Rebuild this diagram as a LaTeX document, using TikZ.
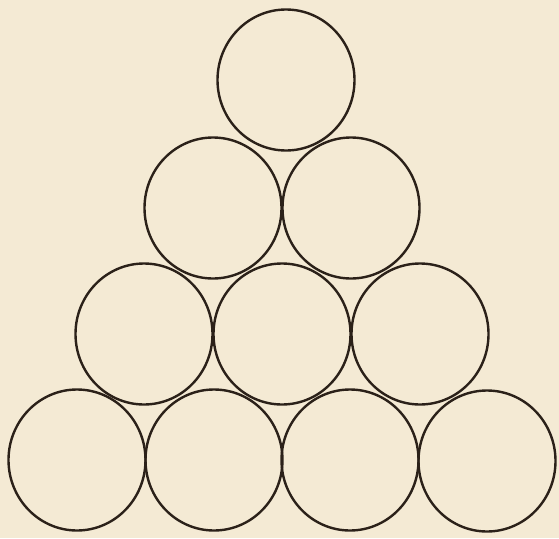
\documentclass[tikz,border=0pt]{standalone}
\usetikzlibrary{shapes.geometric}
\definecolor{paper}{HTML}{F4EAD4}
\definecolor{ink}{HTML}{2B2119}
\begin{document}
\begin{tikzpicture}[x=1pt,y=-1pt,
  ball/.style={ellipse,draw=ink,line width=2.4pt,minimum width=137pt,minimum height=141pt,inner sep=0pt}]
\fill[paper] (0,0) rectangle (559,538);
\useasboundingbox (0,0) rectangle (559,538);
\node[ball] (c1) at (286,80) {};
\node[ball] (c2) at (213,208) {};
\node[ball] (c3) at (351,208) {};
\node[ball] (c4) at (144,334) {};
\node[ball] (c5) at (282,334) {};
\node[ball] (c6) at (420,334) {};
\node[ball] (c7) at (77,460) {};
\node[ball] (c8) at (214,460) {};
\node[ball] (c9) at (350,460) {};
\node[ball] (c10) at (487,461) {};
\end{tikzpicture}
\end{document}
